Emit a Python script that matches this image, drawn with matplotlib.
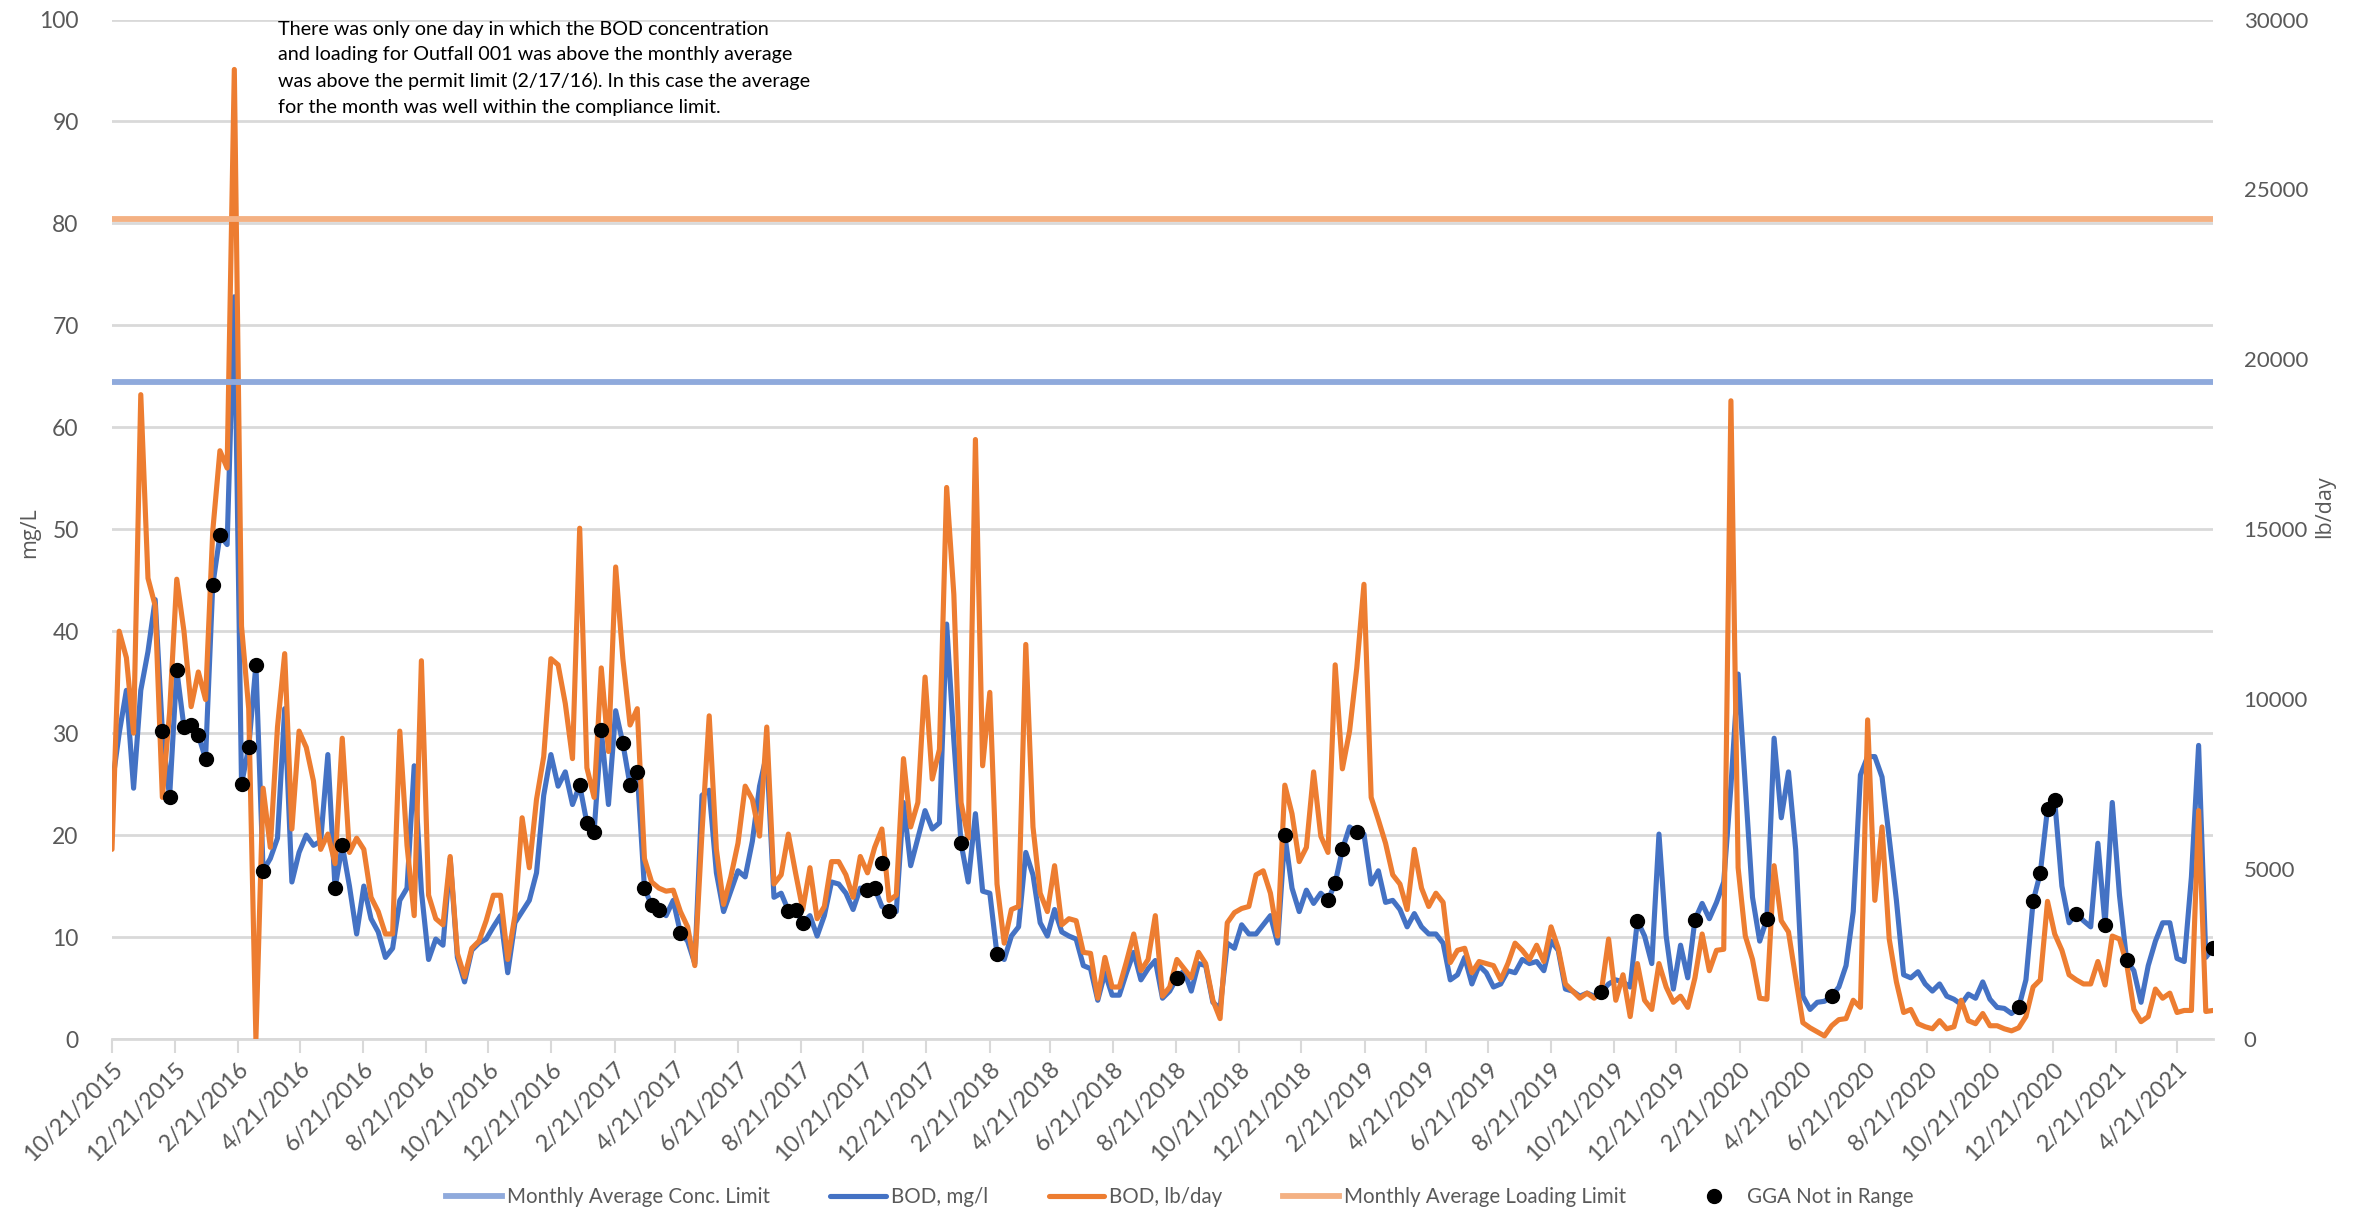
import matplotlib
matplotlib.use("Agg")
import matplotlib.pyplot as plt
import pandas as pd
import numpy as np

FONT = ['Lato', 'DejaVu Sans']
plt.rcParams['font.family'] = FONT

# ---------------- data ----------------
start_date = "2015-10-21"
n_weeks = 293
dates = pd.date_range(start_date, periods=n_weeks, freq="7D")

bod_mgl = [
    24.8, 30, 34.2, 24.6, 34.2, 38, 43.1, 30.2, 23.7, 36.2,
    30.6, 30.8, 29.8, 27.5, 44.5, 49.4, 48.5, 72.8, 25, 28.6,
    36.7, 16.5, 17.7, 19.7, 32.4, 15.4, 18.3, 20, 19, 19.4,
    27.9, 14.8, 19, 15, 10.3, 15, 11.8, 10.5, 8, 8.9,
    13.6, 14.8, 26.8, 14.5, 7.8, 9.8, 9.2, 17.7, 8, 5.6,
    8.7, 9.4, 9.8, 11, 12.1, 6.5, 11.4, 12.5, 13.6, 16.3,
    23.9, 27.9, 24.8, 26.2, 23, 24.9, 21.2, 20.3, 30.3, 23,
    32.2, 29, 24.9, 26.2, 14.8, 13.1, 12.7, 12.1, 13.6, 10.4,
    9.6, 7.4, 23.9, 24.4, 16.3, 12.5, 14.5, 16.5, 15.9, 19.4,
    24.8, 28, 13.9, 14.3, 12.6, 12.7, 11.4, 12.1, 10.1, 12.1,
    15.4, 15.2, 14.3, 12.7, 14.8, 14.6, 14.8, 13, 12.6, 12.5,
    23.2, 17, 19.7, 22.4, 20.6, 21.2, 40.7, 29.3, 19.2, 15.4,
    22.1, 14.5, 14.3, 8.3, 7.8, 10.1, 11, 18.3, 16.1, 11.4,
    10.1, 12.7, 10.5, 10.1, 9.8, 7.2, 6.9, 3.8, 6.5, 4.3,
    4.3, 6.5, 8.5, 5.8, 6.9, 7.7, 4, 4.7, 6, 6.7,
    4.7, 7.4, 7.2, 3.6, 3, 9.4, 8.9, 11.2, 10.3, 10.3,
    11.2, 12.1, 9.4, 20, 14.8, 12.5, 14.6, 13.3, 14.3, 13.6,
    15.3, 18.6, 20.8, 20.3, 20.1, 15.2, 16.5, 13.4, 13.6, 12.7,
    11, 12.3, 11, 10.3, 10.3, 9.4, 5.8, 6.3, 8, 5.4,
    7.2, 6.5, 5.1, 5.4, 6.7, 6.5, 7.8, 7.4, 7.6, 6.7,
    9.6, 8.7, 4.9, 4.7, 4.2, 4.5, 4.2, 4.6, 5.4, 5.8,
    5.6, 5.1, 11.6, 10.1, 7.4, 20.1, 10.1, 4.9, 9.2, 6,
    11.7, 13.3, 11.8, 13.4, 15.4, 24.8, 35.8, 24.8, 13.9, 9.6,
    11.8, 29.5, 21.7, 26.2, 18.6, 4.2, 2.9, 3.6, 3.7, 4.2,
    5.1, 7.2, 12.5, 25.9, 27.7, 27.7, 25.7, 19.7, 13.6, 6.3,
    6, 6.6, 5.4, 4.7, 5.4, 4.2, 3.9, 3.4, 4.4, 4,
    5.6, 3.9, 3.1, 3, 2.5, 3.1, 5.8, 13.5, 16.3, 22.6,
    23.4, 15, 11.4, 12.3, 11.6, 11, 19.2, 11.2, 23.2, 14.1,
    7.7, 6.7, 3.6, 7.2, 9.6, 11.4, 11.4, 7.9, 7.6, 15.9,
    28.8, 8, 8.9,
]

bod_lbday = [
    5580, 12000, 11220, 9000, 18960, 13560, 12750, 7110, 9600, 13530,
    12000, 9780, 10800, 9990, 14940, 17310, 16800, 28530, 12150, 9720,
    0, 7380, 5640, 9180, 11340, 6180, 9060, 8580, 7590, 5580,
    6030, 5160, 8850, 5490, 5910, 5580, 4170, 3750, 3090, 3090,
    9060, 5700, 3630, 11130, 4230, 3540, 3360, 5370, 2520, 1830,
    2670, 2880, 3480, 4230, 4230, 2340, 3630, 6510, 5040, 7050,
    8310, 11190, 11010, 9870, 8250, 15030, 7980, 7110, 10920, 8460,
    13890, 11190, 9240, 9720, 5310, 4620, 4440, 4350, 4380, 3750,
    3300, 2160, 6090, 9510, 5580, 3960, 4770, 5760, 7440, 7050,
    5970, 9180, 4560, 4830, 6030, 4890, 3810, 5040, 3540, 3900,
    5220, 5220, 4830, 4170, 5370, 4890, 5640, 6180, 4080, 4230,
    8250, 6240, 6960, 10650, 7650, 8520, 16230, 13080, 6960, 5910,
    17640, 8040, 10200, 4560, 2820, 3810, 3900, 11610, 6240, 4290,
    3750, 5100, 3360, 3540, 3480, 2550, 2520, 1200, 2400, 1530,
    1530, 2280, 3090, 2010, 2340, 3630, 1260, 1530, 2340, 2070,
    1800, 2550, 2220, 1140, 600, 3420, 3720, 3840, 3900, 4830,
    4950, 4290, 3030, 7470, 6630, 5220, 5640, 7860, 5970, 5490,
    11010, 7950, 9060, 10920, 13380, 7110, 6450, 5760, 4830, 4560,
    3810, 5580, 4440, 3900, 4290, 4020, 2250, 2610, 2670, 1950,
    2280, 2220, 2160, 1740, 2220, 2820, 2610, 2340, 2760, 2280,
    3300, 2670, 1620, 1410, 1200, 1350, 1200, 1410, 2940, 1140,
    1890, 660, 2220, 1140, 870, 2220, 1530, 1080, 1260, 930,
    1800, 3090, 2010, 2610, 2640, 18780, 5040, 3030, 2340, 1200,
    1170, 5100, 3480, 3150, 1800, 480, 330, 210, 90, 390,
    570, 600, 1140, 930, 9390, 4080, 6240, 2940, 1680, 780,
    870, 450, 360, 300, 540, 300, 360, 1140, 540, 450,
    750, 390, 390, 300, 240, 330, 660, 1530, 1740, 4050,
    3090, 2610, 1890, 1740, 1620, 1620, 2280, 1590, 3030, 2940,
    2220, 870, 510, 660, 1470, 1200, 1350, 780, 840, 840,
    6720, 810, 840,
]

# GGA Not in Range markers: week index and mg/L value
gga_week = [7, 8, 9, 10, 11, 12, 13, 14, 15, 18, 19, 20, 21, 31, 32,
            65, 66, 67, 68, 71, 72, 73, 74, 75, 76, 79,
            94, 95, 96, 105, 106, 107, 108, 118, 123, 148,
            163, 169, 170, 171, 173, 207, 212, 220, 230, 239,
            265, 267, 268, 269, 270, 273, 277, 280, 292]
gga_mgl = [30.2, 23.7, 36.2, 30.6, 30.8, 29.8, 27.5, 44.5, 49.4, 25, 28.6, 36.7, 16.5, 14.8, 19,
           24.9, 21.2, 20.3, 30.3, 29, 24.9, 26.2, 14.8, 13.1, 12.7, 10.4,
           12.6, 12.7, 11.4, 14.6, 14.8, 17.3, 12.6, 19.2, 8.3, 6,
           20, 13.6, 15.3, 18.6, 20.3, 4.6, 11.6, 11.7, 11.8, 4.2,
           3.1, 13.5, 16.3, 22.6, 23.4, 12.3, 11.2, 7.7, 8.9]

conc_limit_mgl = 64.4
load_limit_lbday = 24130

tick_start = "2015-10-21"
n_ticks = 34

labels = ["Monthly Average Conc. Limit", "BOD, mg/l", "BOD, lb/day",
          "Monthly Average Loading Limit", "GGA Not in Range"]
note = ("There was only one day in which the BOD concentration\n"
        "and loading for Outfall 001 was above the monthly average\n"
        "was above the permit limit (2/17/16). In this case the average\n"
        "for the month was well within the compliance limit.")

# ---------------- styles ----------------
C_BLUE = "#4472C4"
C_ORANGE = "#ED7D31"
C_BLUE_LIM = "#8FAADC"
C_ORANGE_LIM = "#F4B183"
C_GRID = "#D9D9D9"
C_TEXT = "#595959"

W, H = 2360, 1214
fig = plt.figure(figsize=(W / 100, H / 100), dpi=100)
L, R, T, B = 112, 2213, 19.5, 1039
ax1 = fig.add_axes([L / W, 1 - B / H, (R - L) / W, (B - T) / H])
ax2 = ax1.twinx()

gga_dates = dates[gga_week]
const_conc = [conc_limit_mgl] * len(dates)
const_load = [load_limit_lbday] * len(dates)

# primary axis: grid and BOD mg/l
ax1.set_ylim(0, 100)
ax1.set_yticks(np.arange(0, 101, 10))
ax1.grid(axis="y", color=C_GRID, lw=2.0, zorder=0)
ax1.set_axisbelow(True)
l_blue, = ax1.plot(dates, bod_mgl, color=C_BLUE, lw=3.7, solid_joinstyle="round",
                   solid_capstyle="round", zorder=2)

# secondary axis
ax2.set_ylim(0, 30000)
ax2.set_yticks(np.arange(0, 30001, 5000))
l_orange, = ax2.plot(dates, bod_lbday, color=C_ORANGE, lw=3.7, solid_joinstyle="round",
                     solid_capstyle="round", zorder=2)
l_load, = ax2.plot(dates, const_load, color=C_ORANGE_LIM, lw=4.2, zorder=3)
l_conc, = ax2.plot(dates, const_conc, color=C_BLUE_LIM, lw=4.2, zorder=3,
                   transform=ax1.transData)
l_gga, = ax2.plot(gga_dates, gga_mgl, ls="none", marker="o", ms=10, color="black",
                  zorder=5, transform=ax1.transData)

ax1.set_xlim(dates[0], dates[-1])
ticks = [pd.Timestamp(tick_start) + pd.DateOffset(months=2 * i) for i in range(n_ticks)]
ax1.set_xticks(ticks)
ax1.set_xticklabels([f"{d.month}/{d.day}/{d.year}" for d in ticks], rotation=45,
                    ha="right", rotation_mode="anchor")

for ax in (ax1, ax2):
    for s in ax.spines.values():
        s.set_visible(False)
ax1.spines["bottom"].set_visible(True)
ax1.spines["bottom"].set_color(C_GRID)
ax1.spines["bottom"].set_linewidth(2.0)

ax1.tick_params(axis="x", which="major", length=10, width=1.5, color=C_GRID,
                labelsize=16.8, labelcolor=C_TEXT, pad=4)
ax1.tick_params(axis="y", length=0, labelsize=16.5, labelcolor=C_TEXT, pad=24)
ax2.tick_params(axis="y", length=0, labelsize=16, labelcolor=C_TEXT, pad=22)

fig.text(30 / W, 1 - 533 / H, "mg/L", rotation=90, va="center", ha="center",
         fontsize=15.5, color=C_TEXT, family=['Open Sans', 'DejaVu Sans'])
fig.text(2325 / W, 1 - 507 / H, "lb/day", rotation=90, va="center", ha="center",
         fontsize=15.5, color=C_TEXT, family=['Open Sans', 'DejaVu Sans'])

fig.text(278 / W, 1 - 21 / H, note, va="top", ha="left", fontsize=14.2,
         linespacing=1.6, color="black")

fig.legend([l_conc, l_blue, l_orange, l_load, l_gga], labels,
           loc="center", bbox_to_anchor=(0.5, 1 - 1197 / H), ncol=5, frameon=False,
           fontsize=14.8, labelcolor=C_TEXT, handlelength=2.7, handletextpad=0.25,
           columnspacing=2.95, borderaxespad=0)

fig.savefig("out.png", dpi=100)
